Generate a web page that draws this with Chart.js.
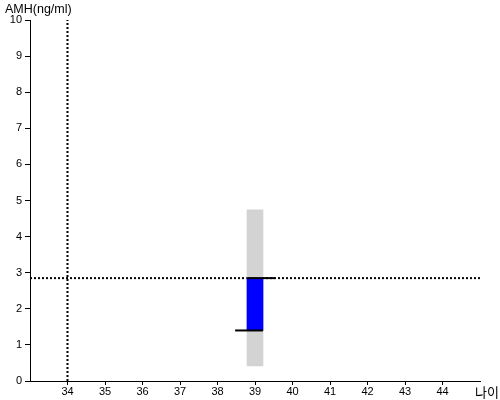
<!DOCTYPE html>
<html>
<head>
<meta charset="utf-8">
<script src="https://cdn.jsdelivr.net/npm/chart.js@4/dist/chart.umd.min.js"></script>
<style>
  html, body { margin: 0; padding: 0; background: #fff; }
  #wrap { width: 500px; height: 400px; }
</style>
</head>
<body>
<div id="wrap"><canvas id="amhChart" width="500" height="400"></canvas></div>
<script>
// 축 범위와 눈금
const xRange = [33, 45];
const xTicks = [34, 35, 36, 37, 38, 39, 40, 41, 42, 43, 44];
const yRange = [0, 10];
const yTicks = [0, 1, 2, 3, 4, 5, 6, 7, 8, 9, 10];

// 나이 39세 참고 범위 (회색) 와 중간 범위 (파란색)
const age = [39];
const refRange = [0.42, 4.74];
const midRange = [1.4, 2.85];
// 검은 가로선 (상단/하단) 의 x 구간
const upperLine = [38.79, 39.53];
const lowerLine = [38.47, 39.21];

// 환자 값 (점선)
const patientAge = 34;
const patientAmh = 2.85;

const font = { family: 'Arial, "Liberation Sans", sans-serif', size: 11 };

const labelPlugin = {
    id: 'labels',
    afterDraw(chart) {
        const ctx = chart.ctx;
        ctx.save();
        ctx.fillStyle = '#000';
        ctx.font = '12.5px Arial, "Liberation Sans", sans-serif';
        ctx.textBaseline = 'middle';
        ctx.textAlign = 'left';
        ctx.fillText('AMH(ng/ml)', 5, 10);
        ctx.font = '13px "Noto Sans CJK KR", sans-serif';
        ctx.fillText('나이', 475, 392);
        ctx.restore();
    }
};

const ctx = document.getElementById('amhChart').getContext('2d');
new Chart(ctx, {
    type: 'bar',
    data: {
        datasets: [
            {
                type: 'line',
                data: [{ x: patientAge, y: yRange[0] }, { x: patientAge, y: yRange[1] }],
                borderColor: '#000',
                borderWidth: 2,
                borderDash: [2, 2],
                pointRadius: 0,
                order: 5
            },
            {
                type: 'line',
                data: [{ x: xRange[0], y: patientAmh }, { x: xRange[1], y: patientAmh }],
                borderColor: '#000',
                borderWidth: 2,
                borderDash: [2, 2],
                pointRadius: 0,
                order: 4
            },
            {
                data: [{ x: age[0], y: refRange }],
                backgroundColor: '#d3d3d3',
                barThickness: 16,
                grouped: false,
                order: 3
            },
            {
                data: [{ x: age[0], y: midRange }],
                backgroundColor: '#0000ff',
                barThickness: 16,
                grouped: false,
                order: 2
            },
            {
                type: 'line',
                data: [{ x: upperLine[0], y: midRange[1] }, { x: upperLine[1], y: midRange[1] }],
                borderColor: '#000',
                borderWidth: 2,
                pointRadius: 0,
                order: 1
            },
            {
                type: 'line',
                data: [{ x: lowerLine[0], y: midRange[0] }, { x: lowerLine[1], y: midRange[0] }],
                borderColor: '#000',
                borderWidth: 2,
                pointRadius: 0,
                order: 0
            }
        ]
    },
    options: {
        responsive: false,
        animation: false,
        layout: { padding: { top: 20, right: 20, left: 0, bottom: 0 } },
        plugins: {
            legend: { display: false },
            tooltip: { enabled: false }
        },
        scales: {
            x: {
                type: 'linear',
                min: xRange[0],
                max: xRange[1],
                offset: false,
                afterBuildTicks(scale) {
                    scale.ticks = xTicks.map(v => ({ value: v }));
                },
                afterFit(scale) { scale.height = 19; },
                ticks: { color: '#000', font: font, padding: 0, maxRotation: 0, autoSkip: false },
                grid: { offset: false, drawOnChartArea: false, drawTicks: true, tickLength: 4, color: '#000', lineWidth: 1 },
                border: { color: '#000', width: 1 }
            },
            y: {
                type: 'linear',
                min: yRange[0],
                max: yRange[1],
                afterBuildTicks(scale) {
                    scale.ticks = yTicks.map(v => ({ value: v }));
                },
                afterFit(scale) { scale.width = 30; },
                ticks: { color: '#000', font: font, padding: 3 },
                grid: { drawOnChartArea: false, drawTicks: true, tickLength: 5, color: '#000', lineWidth: 1 },
                border: { color: '#000', width: 1 }
            }
        }
    },
    plugins: [labelPlugin]
});
</script>
</body>
</html>
